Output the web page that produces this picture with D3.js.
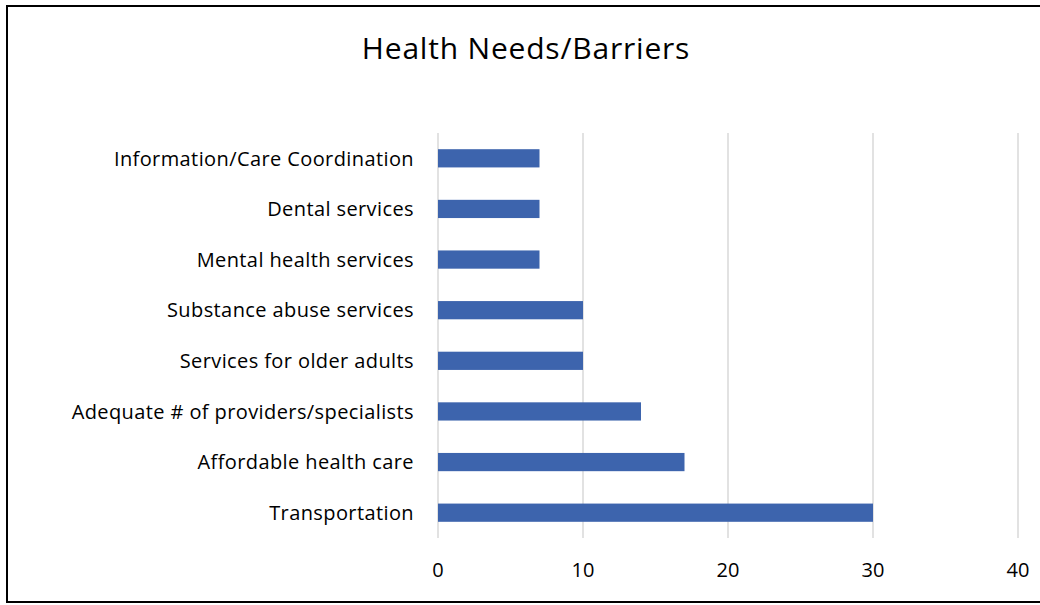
<!DOCTYPE html>
<html>
<head>
<meta charset="utf-8">
<script src="https://cdn.jsdelivr.net/npm/d3@7"></script>
<style>
  html, body { margin: 0; padding: 0; background: #fff; }
  svg { display: block; }
  text { font-family: "Open Sans", Lato, sans-serif; fill: #000; font-variant-ligatures: none; }
</style>
</head>
<body>
<svg id="chart" width="1040" height="605"></svg>
<script>
// Survey responses: health needs and barriers
const categories = [
  "Information/Care Coordination",
  "Dental services",
  "Mental health services",
  "Substance abuse services",
  "Services for older adults",
  "Adequate # of providers/specialists",
  "Affordable health care",
  "Transportation"
];
const counts = [7, 7, 7, 10, 10, 14, 17, 30];
const xTicks = [0, 10, 20, 30, 40];
const chartTitle = "Health Needs/Barriers";

const svg = d3.select("#chart");

// outer frame
svg.append("rect")
  .attr("x", 7).attr("y", 6)
  .attr("width", 1040).attr("height", 596)
  .attr("fill", "#fff")
  .attr("stroke", "#000")
  .attr("stroke-width", 2);

const plot = { left: 438, right: 1018, top: 133, bottom: 538 };

const x = d3.scaleLinear().domain([0, 40]).range([plot.left, plot.right]);
const y = d3.scaleBand().domain(categories)
  .range([plot.top, plot.bottom]).paddingInner(0.64).paddingOuter(0.32);

// vertical gridlines
svg.append("g").selectAll("line").data(xTicks).join("line")
  .attr("x1", d => x(d)).attr("x2", d => x(d))
  .attr("y1", plot.top).attr("y2", plot.bottom)
  .attr("stroke", "#d9d9d9").attr("stroke-width", 1.5);

// bars
svg.append("g").selectAll("rect").data(categories).join("rect")
  .attr("x", x(0))
  .attr("y", d => y(d))
  .attr("width", (d, i) => x(counts[i]) - x(0))
  .attr("height", y.bandwidth())
  .attr("fill", "#3d64ad");

// category labels
svg.append("g").selectAll("text").data(categories).join("text")
  .attr("x", plot.left - 24)
  .attr("y", d => y(d) + y.bandwidth() / 2)
  .attr("dy", "0.36em")
  .attr("text-anchor", "end")
  .attr("font-size", 20)
  .attr("letter-spacing", 0.4)
  .text(d => d);

// value axis tick labels
svg.append("g").selectAll("text").data(xTicks).join("text")
  .attr("x", d => x(d))
  .attr("y", 570)
  .attr("dy", "0.36em")
  .attr("text-anchor", "middle")
  .attr("font-size", 20)
  .text(d => d);

// title
svg.append("text")
  .attr("x", 526).attr("y", 48)
  .attr("dy", "0.36em")
  .attr("text-anchor", "middle")
  .attr("font-size", 30)
  .attr("letter-spacing", 0.8)
  .text(chartTitle);
</script>
</body>
</html>
